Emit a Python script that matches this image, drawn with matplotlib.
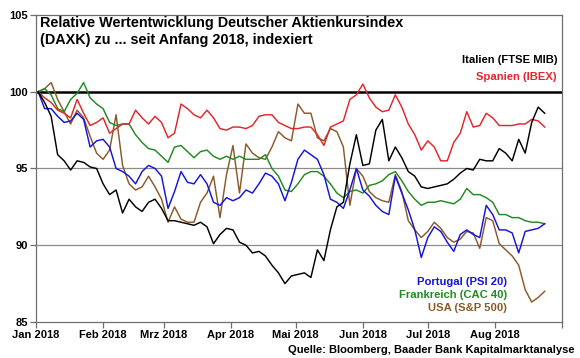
import matplotlib
matplotlib.use("Agg")
import matplotlib.pyplot as plt
import pandas as pd

plt.rcParams['font.family'] = ['Liberation Sans', 'DejaVu Sans']

# Dates (every 3 days from 2 Jan 2018)
dates = pd.date_range("2018-01-02", "2018-08-24", freq="3D")

italien = [100, 99.3, 98.4, 95.9, 95.5, 94.9, 95.5, 95.4, 95.1, 95.0,
           94.0, 93.3, 93.6, 92.1, 93.0, 92.5, 92.2, 92.8, 93.0, 92.4,
           91.6, 91.6, 91.5, 91.4, 91.3, 91.5, 91.2, 90.1, 90.7, 91.1,
           91.0, 90.2, 90.0, 89.5, 89.6, 89.3, 88.7, 88.2, 87.5, 88.0,
           88.1, 88.2, 87.9, 89.7, 89.0, 91.0, 92.5, 92.8, 95.3, 97.2,
           95.2, 95.3, 97.5, 98.2, 95.5, 96.4, 95.7, 94.8, 94.5, 93.8,
           93.7, 93.8, 93.9, 94.0, 94.3, 94.7, 95.0, 94.9, 95.6, 95.5,
           95.5, 96.3, 96.0, 95.5, 96.9, 96.0, 98.0, 99.0, 98.6]

spanien = [100, 99.6, 99.3, 98.8, 98.6, 98.3, 99.5, 98.6, 97.8, 98.0,
           98.3, 97.3, 97.6, 97.9, 97.9, 98.8, 98.3, 97.9, 98.4, 98.0,
           97.0, 97.3, 99.2, 98.9, 98.5, 98.3, 98.8, 98.3, 97.6, 97.5,
           97.7, 97.7, 97.6, 97.8, 98.4, 98.5, 98.5, 98.0, 97.8, 97.6,
           97.6, 97.7, 97.7, 97.2, 96.5, 97.7, 97.9, 98.1, 99.5, 99.8,
           100.5, 99.6, 99.0, 98.7, 98.8, 99.8, 99.0, 97.9, 97.2, 96.2,
           96.8, 96.4, 95.5, 95.5, 96.7, 97.3, 98.7, 97.7, 97.8, 98.6,
           98.3, 97.8, 97.8, 97.8, 97.9, 97.9, 98.2, 98.1, 97.7]

portugal = [100, 98.9, 98.9, 98.4, 98.0, 98.1, 98.6, 98.2, 96.4, 96.8,
            96.9, 96.4, 95.0, 94.8, 94.5, 94.0, 94.8, 95.2, 95.0, 94.5,
            92.4, 93.5, 94.8, 94.1, 94.0, 94.6, 94.0, 92.8, 92.6, 93.1,
            92.9, 93.1, 93.6, 93.4, 94.0, 94.7, 94.5, 94.0, 92.9, 94.1,
            95.6, 96.2, 95.9, 95.6, 94.6, 93.0, 92.8, 92.4, 93.6, 95.0,
            93.6, 93.2, 92.6, 92.2, 92.0, 94.5, 93.4, 92.3, 91.0, 89.2,
            90.5, 91.2, 90.9, 90.2, 89.6, 90.7, 91.0, 90.7, 90.5, 92.6,
            92.0, 91.0, 91.0, 90.8, 89.5, 90.9, 91.0, 91.1, 91.4]

frankreich = [100, 100.2, 99.8, 98.9, 98.7, 99.5, 99.9, 100.6, 99.6, 99.2,
              98.9, 98.0, 97.8, 97.9, 97.9, 97.2, 96.7, 96.3, 96.2, 95.8,
              95.4, 96.4, 96.5, 96.1, 95.7, 96.1, 96.2, 95.8, 95.6, 95.8,
              95.6, 95.8, 95.6, 95.6, 95.6, 95.9, 95.0, 94.5, 93.6, 93.5,
              94.0, 94.6, 94.8, 94.8, 94.5, 94.0, 93.4, 93.1, 93.5, 93.6,
              93.4, 93.9, 94.0, 94.2, 94.6, 94.8, 94.2, 93.5, 93.0, 92.6,
              92.8, 92.8, 92.9, 92.8, 92.7, 93.0, 93.7, 93.3, 93.3, 93.1,
              92.8, 92.0, 92.0, 91.8, 91.8, 91.6, 91.5, 91.5, 91.4]

usa = [100, 100.2, 100.6, 99.5, 98.7, 97.9, 98.8, 98.3, 97.1, 96.0,
       95.6, 96.2, 98.5, 95.2, 94.0, 93.6, 93.8, 94.5, 93.8, 93.0,
       91.5, 92.5, 91.7, 91.5, 91.5, 92.8, 93.4, 94.5, 91.8, 94.6,
       96.5, 93.4, 96.6, 96.0, 95.7, 95.6, 96.4, 97.4, 97.0, 96.8,
       99.2, 98.6, 98.6, 97.0, 96.8, 97.6, 97.4, 96.4, 92.6, 95.0,
       94.5, 93.5, 93.1, 92.9, 92.8, 94.6, 93.5, 91.6, 91.0, 90.5,
       90.9, 91.5, 91.1, 90.5, 90.2, 90.4, 90.9, 90.8, 89.8, 91.8,
       91.6, 90.1, 89.7, 89.3, 88.7, 87.1, 86.3, 86.6, 87.0]

month_ticks = ["2018-01-01", "2018-02-01", "2018-03-01", "2018-04-01", "2018-05-01",
               "2018-06-01", "2018-07-01", "2018-08-01", "2018-09-01"]
month_labels = ["Jan 2018", "Feb 2018", "Mrz 2018", "Apr 2018", "Mai 2018",
                "Jun 2018", "Jul 2018", "Aug 2018", ""]
y_ticks = [85, 90, 95, 100, 105]

c_black = "#000000"
c_red = "#e3262b"
c_blue = "#1414dc"
c_green = "#218a21"
c_brown = "#8a5a2a"

fig = plt.figure(figsize=(5.8, 3.58), dpi=100)
ax = fig.add_axes([36/580, 1-322/358, (562-36)/580, (322-15)/358])

xdates = pd.to_datetime(month_ticks)
ax.set_xlim(xdates[0], xdates[-1])
ax.set_ylim(85, 105)

# grid lines
for yv in [90, 95]:
    ax.axhline(yv, color="#8c8c8c", lw=0.9, zorder=1)
ax.axhline(100, color="black", lw=1.8, zorder=2)

lw = 1.05
ax.plot(dates, usa, color=c_brown, lw=lw, zorder=3)
ax.plot(dates, frankreich, color=c_green, lw=lw, zorder=3)
ax.plot(dates, portugal, color=c_blue, lw=lw, zorder=4)
ax.plot(dates, spanien, color=c_red, lw=lw, zorder=4)
ax.plot(dates, italien, color=c_black, lw=lw, zorder=5)

ax.set_xticks(xdates)
ax.set_xticklabels(month_labels, fontsize=8, fontweight="bold")
ax.set_yticks(y_ticks)
ax.set_yticklabels([str(v) for v in y_ticks], fontsize=8, fontweight="bold")
ax.tick_params(axis="both", direction="out", length=4, width=0.9, color="#6e6e6e", pad=2)

for s in ax.spines.values():
    s.set_color("#6e6e6e")
    s.set_linewidth(0.9)

fig.text(40/580, 1-23/358, "Relative Wertentwicklung Deutscher Aktienkursindex",
         fontsize=10.4, fontweight="bold", va="center", ha="left")
fig.text(40/580, 1-40/358, "(DAXK) zu ... seit Anfang 2018, indexiert",
         fontsize=10.4, fontweight="bold", va="center", ha="left")

fs_leg = 8.1
fig.text(557/580, 1-60/358, "Italien (FTSE MIB)", color=c_black, fontsize=fs_leg,
         fontweight="bold", ha="right", va="center")
fig.text(557/580, 1-77/358, "Spanien (IBEX)", color=c_red, fontsize=fs_leg,
         fontweight="bold", ha="right", va="center")
fig.text(507/580, 1-282/358, "Portugal (PSI 20)", color=c_blue, fontsize=fs_leg,
         fontweight="bold", ha="right", va="center")
fig.text(507/580, 1-295/358, "Frankreich (CAC 40)", color=c_green, fontsize=fs_leg,
         fontweight="bold", ha="right", va="center")
fig.text(507/580, 1-308/358, "USA (S&P 500)", color=c_brown, fontsize=fs_leg,
         fontweight="bold", ha="right", va="center")

fig.text(575/580, 1-350/358, "Quelle: Bloomberg, Baader Bank Kapitalmarktanalyse",
         fontsize=8, fontweight="bold", ha="right", va="center")

fig.savefig("out.png", dpi=100)
